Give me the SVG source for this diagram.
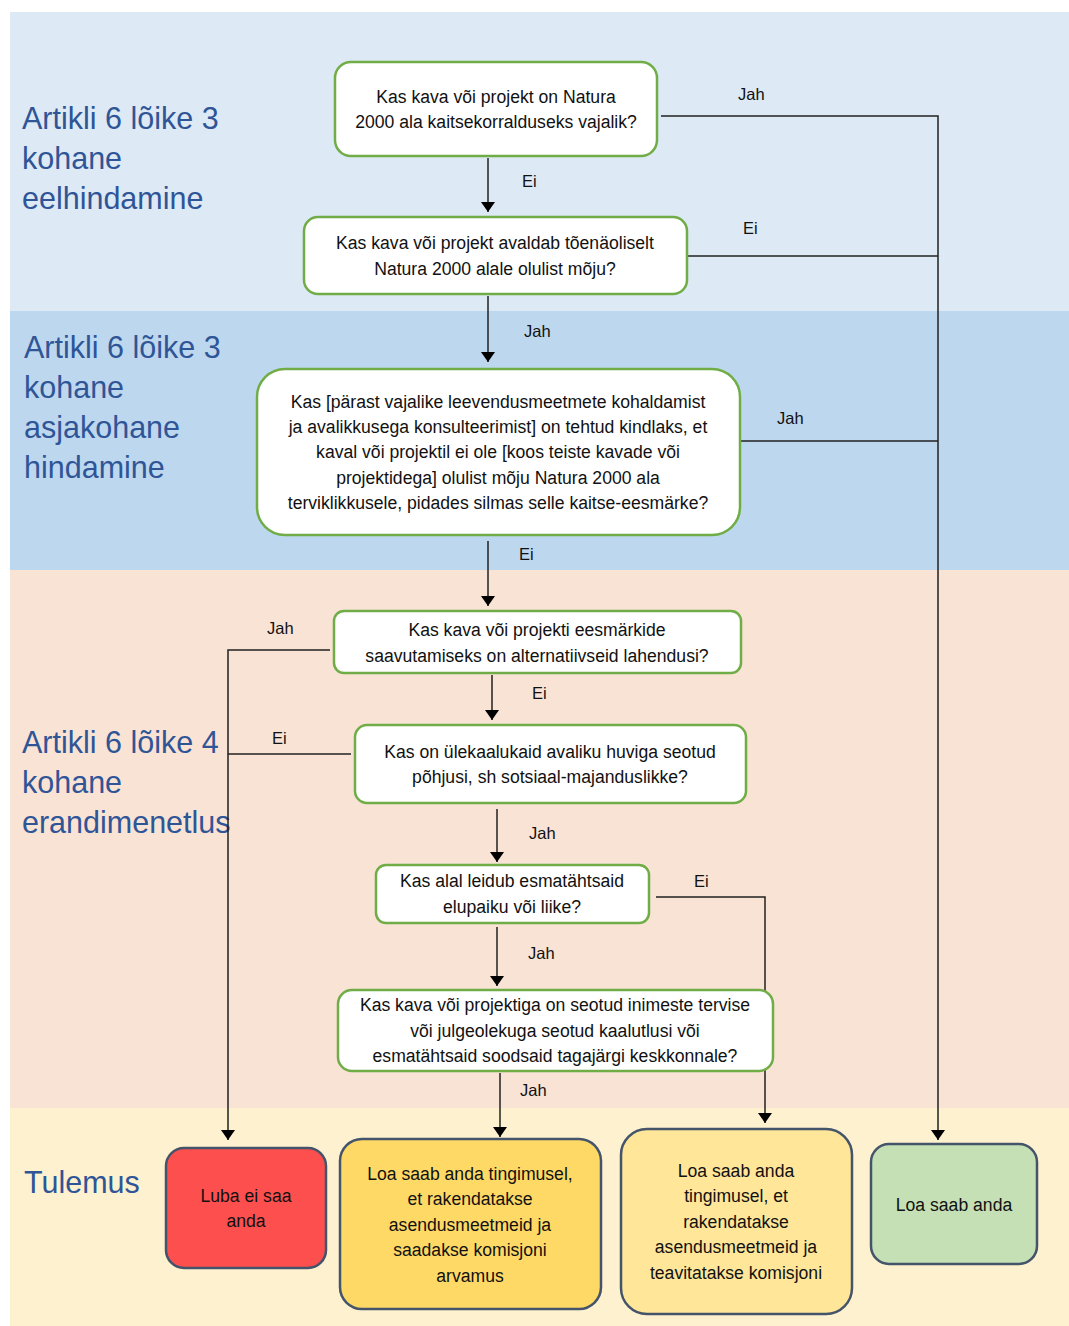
<svg xmlns="http://www.w3.org/2000/svg" width="1069" height="1326" viewBox="0 0 1069 1326">
<style>
.band-label{font-family:"Liberation Sans",Arial,sans-serif;font-size:30.5px;fill:#2f5597}
.q{fill:#ffffff;stroke:#70ad47;stroke-width:2.5}
.r{stroke:#44546a;stroke-width:2.5}
.t{font-family:"Liberation Sans",Arial,sans-serif;font-size:17.6px;fill:#111;text-anchor:middle}
.lbl{font-family:"Liberation Sans",Arial,sans-serif;font-size:16.5px;fill:#111}
.c{fill:none;stroke:#222;stroke-width:1.5}
</style>
<defs>
<marker id="ah" viewBox="0 0 10 14" refX="10" refY="7" markerWidth="10" markerHeight="14" markerUnits="userSpaceOnUse" orient="auto">
<path d="M0,0 L10,7 L0,14 Z" fill="#000"/>
</marker>
</defs>
<rect x="0" y="0" width="1069" height="1326" fill="#ffffff"/>
<g id="bands">
<rect x="10" y="12" width="1059" height="299" fill="#dde9f5"/>
<rect x="10" y="311" width="1059" height="259" fill="#bdd7ee"/>
<rect x="10" y="570" width="1059" height="538" fill="#f9e3d5"/>
<rect x="10" y="1108" width="1059" height="218" fill="#fef1d0"/>
</g>
<g id="band-labels">
<text class="band-label" x="22" y="129">Artikli 6 lõike 3</text>
<text class="band-label" x="22" y="169">kohane</text>
<text class="band-label" x="22" y="209">eelhindamine</text>
<text class="band-label" x="24" y="358">Artikli 6 lõike 3</text>
<text class="band-label" x="24" y="398">kohane</text>
<text class="band-label" x="24" y="438">asjakohane</text>
<text class="band-label" x="24" y="478">hindamine</text>
<text class="band-label" x="22" y="753">Artikli 6 lõike 4</text>
<text class="band-label" x="22" y="793">kohane</text>
<text class="band-label" x="22" y="833">erandimenetlus</text>
<text class="band-label" x="24" y="1193">Tulemus</text>
</g>
<g id="connectors">
<polyline class="c" points="661,116 938,116 938,1140" marker-end="url(#ah)"/>
<line class="c" x1="687" y1="256" x2="938" y2="256"/>
<line class="c" x1="740" y1="441" x2="938" y2="441"/>
<line class="c" x1="488" y1="158" x2="488" y2="212" marker-end="url(#ah)"/>
<line class="c" x1="488" y1="296" x2="488" y2="362" marker-end="url(#ah)"/>
<line class="c" x1="488" y1="541" x2="488" y2="606" marker-end="url(#ah)"/>
<polyline class="c" points="330,650 228,650 228,1140" marker-end="url(#ah)"/>
<line class="c" x1="351" y1="754" x2="228" y2="754"/>
<line class="c" x1="492" y1="675" x2="492" y2="720" marker-end="url(#ah)"/>
<line class="c" x1="497" y1="809" x2="497" y2="862" marker-end="url(#ah)"/>
<polyline class="c" points="656,897 765,897 765,1123" marker-end="url(#ah)"/>
<line class="c" x1="497" y1="927" x2="497" y2="986" marker-end="url(#ah)"/>
<line class="c" x1="500" y1="1073" x2="500" y2="1137" marker-end="url(#ah)"/>
<text class="lbl" x="738" y="100">Jah</text>
<text class="lbl" x="743" y="234">Ei</text>
<text class="lbl" x="777" y="424">Jah</text>
<text class="lbl" x="522" y="187">Ei</text>
<text class="lbl" x="524" y="337">Jah</text>
<text class="lbl" x="519" y="560">Ei</text>
<text class="lbl" x="267" y="634">Jah</text>
<text class="lbl" x="272" y="744">Ei</text>
<text class="lbl" x="532" y="699">Ei</text>
<text class="lbl" x="529" y="839">Jah</text>
<text class="lbl" x="694" y="887">Ei</text>
<text class="lbl" x="528" y="959">Jah</text>
<text class="lbl" x="520" y="1096">Jah</text>
</g>
<g id="n1">
<rect class="q" x="335" y="62" width="322" height="94" rx="16"/>
<text class="t" x="496" y="103">Kas kava või projekt on Natura</text>
<text class="t" x="496" y="128">2000 ala kaitsekorralduseks vajalik?</text>
</g>
<g id="n2">
<rect class="q" x="304" y="217" width="383" height="77" rx="14"/>
<text class="t" x="495" y="249">Kas kava või projekt avaldab tõenäoliselt</text>
<text class="t" x="495" y="275">Natura 2000 alale olulist mõju?</text>
</g>
<g id="n3">
<rect class="q" x="257" y="369" width="483" height="166" rx="28"/>
<text class="t" x="498" y="408">Kas [pärast vajalike leevendusmeetmete kohaldamist</text>
<text class="t" x="498" y="433">ja avalikkusega konsulteerimist] on tehtud kindlaks, et</text>
<text class="t" x="498" y="458">kaval või projektil ei ole [koos  teiste kavade või</text>
<text class="t" x="498" y="484">projektidega] olulist mõju Natura 2000 ala</text>
<text class="t" x="498" y="509">terviklikkusele, pidades silmas selle kaitse-eesmärke?</text>
</g>
<g id="n4">
<rect class="q" x="334" y="611" width="407" height="62" rx="10"/>
<text class="t" x="537" y="636">Kas kava või projekti eesmärkide</text>
<text class="t" x="537" y="662">saavutamiseks on alternatiivseid lahendusi?</text>
</g>
<g id="n5">
<rect class="q" x="355" y="725" width="391" height="78" rx="12"/>
<text class="t" x="550" y="758">Kas on ülekaalukaid avaliku huviga seotud</text>
<text class="t" x="550" y="783">põhjusi, sh sotsiaal-majanduslikke?</text>
</g>
<g id="n6">
<rect class="q" x="376" y="865" width="273" height="58" rx="10"/>
<text class="t" x="512" y="887">Kas alal leidub esmatähtsaid</text>
<text class="t" x="512" y="913">elupaiku või liike?</text>
</g>
<g id="n7">
<rect class="q" x="338" y="990" width="435" height="81" rx="14"/>
<text class="t" x="555" y="1011">Kas kava või projektiga on seotud inimeste tervise</text>
<text class="t" x="555" y="1037">või julgeolekuga seotud kaalutlusi või</text>
<text class="t" x="555" y="1062">esmatähtsaid soodsaid tagajärgi keskkonnale?</text>
</g>
<g id="r1">
<rect class="r" x="166" y="1148" width="160" height="120" rx="18" fill="#fe4f4f"/>
<text class="t" x="246" y="1202">Luba ei saa</text>
<text class="t" x="246" y="1227">anda</text>
</g>
<g id="r2">
<rect class="r" x="340" y="1139" width="261" height="170" rx="22" fill="#ffd966"/>
<text class="t" x="470" y="1180">Loa saab anda tingimusel,</text>
<text class="t" x="470" y="1205">et rakendatakse</text>
<text class="t" x="470" y="1231">asendusmeetmeid ja</text>
<text class="t" x="470" y="1256">saadakse  komisjoni</text>
<text class="t" x="470" y="1282">arvamus</text>
</g>
<g id="r3">
<rect class="r" x="621" y="1129" width="231" height="185" rx="26" fill="#ffe699"/>
<text class="t" x="736" y="1177">Loa saab anda</text>
<text class="t" x="736" y="1202">tingimusel, et</text>
<text class="t" x="736" y="1228">rakendatakse</text>
<text class="t" x="736" y="1253">asendusmeetmeid ja</text>
<text class="t" x="736" y="1279">teavitatakse komisjoni</text>
</g>
<g id="r4">
<rect class="r" x="871" y="1144" width="166" height="120" rx="18" fill="#c5e0b4"/>
<text class="t" x="954" y="1211">Loa saab anda</text>
</g>
</svg>
